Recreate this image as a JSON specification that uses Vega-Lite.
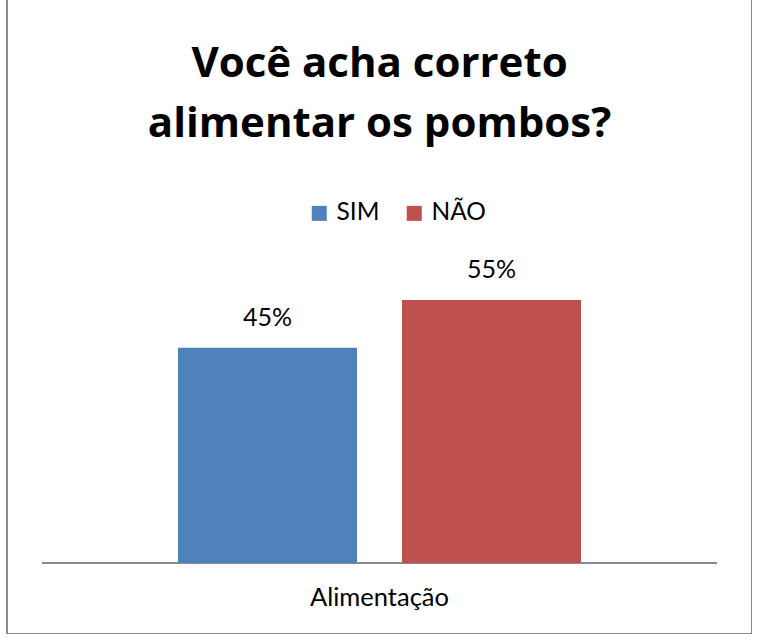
{
  "$schema": "https://vega.github.io/schema/vega-lite/v6.json",
  "width": 745,
  "height": 638,
  "autosize": {"type": "none"},
  "padding": {"left": 7, "top": -4, "right": 0, "bottom": 0},
  "background": "white",
  "title": {
    "text": ["Você acha correto", "alimentar os pombos?"],
    "font": "Open Sans",
    "fontSize": 42,
    "fontWeight": "bold",
    "color": "black",
    "anchor": "middle",
    "baseline": "alphabetic",
    "lineHeight": 60,
    "offset": -183
  },
  "data": {
    "values": [
      {"categoria": "Alimentação", "resposta": "SIM", "valor": 0.45},
      {"categoria": "Alimentação", "resposta": "NÃO", "valor": 0.55}
    ]
  },
  "encoding": {
    "x": {
      "field": "categoria",
      "type": "nominal",
      "title": null,
      "scale": {"paddingInner": 0, "paddingOuter": 0.0519},
      "axis": {
        "orient": "bottom",
        "offset": -52,
        "domain": false,
        "ticks": false,
        "labelAngle": 0,
        "labelFont": "Lato",
        "labelFontSize": 25.5,
        "labelColor": "black",
        "labelPadding": 3
      }
    }
  },
  "layer": [
    {
      "mark": {"type": "bar", "fill": null, "stroke": "#8a8a8a", "strokeWidth": 2},
      "encoding": {
        "y": {"datum": 0, "type": "quantitative", "scale": {"domain": [-0.1485, 1.186], "nice": false, "zero": false}, "axis": null},
        "y2": {"datum": 0}
      }
    },
    {
      "mark": {"type": "bar"},
      "encoding": {
        "xOffset": {
          "field": "resposta",
          "type": "nominal",
          "sort": ["SIM", "NÃO"],
          "scale": {"paddingInner": 0.2009, "paddingOuter": 0.607}
        },
        "y": {"field": "valor", "type": "quantitative", "axis": null},
        "color": {
          "field": "resposta",
          "type": "nominal",
          "sort": ["SIM", "NÃO"],
          "scale": {"domain": ["SIM", "NÃO"], "range": ["#4F81BD", "#C0504D"]},
          "legend": {
            "title": null,
            "orient": "none",
            "direction": "horizontal",
            "legendX": 300,
            "legendY": 205,
            "symbolType": "square",
            "symbolSize": 225,
            "symbolStrokeWidth": 0,
            "labelFont": "Lato",
            "labelFontSize": 24.5,
            "labelColor": "black",
            "labelOffset": 5,
            "columnPadding": 22
          }
        }
      }
    },
    {
      "mark": {"type": "text", "baseline": "alphabetic", "dy": -22, "font": "Lato", "fontSize": 25, "color": "black"},
      "encoding": {
        "xOffset": {"field": "resposta", "type": "nominal", "sort": ["SIM", "NÃO"]},
        "y": {"field": "valor", "type": "quantitative"},
        "text": {"field": "valor", "type": "quantitative", "format": ".0%"}
      }
    }
  ],
  "config": {
    "view": {"stroke": "#8a8a8a", "strokeWidth": 2}
  }
}
